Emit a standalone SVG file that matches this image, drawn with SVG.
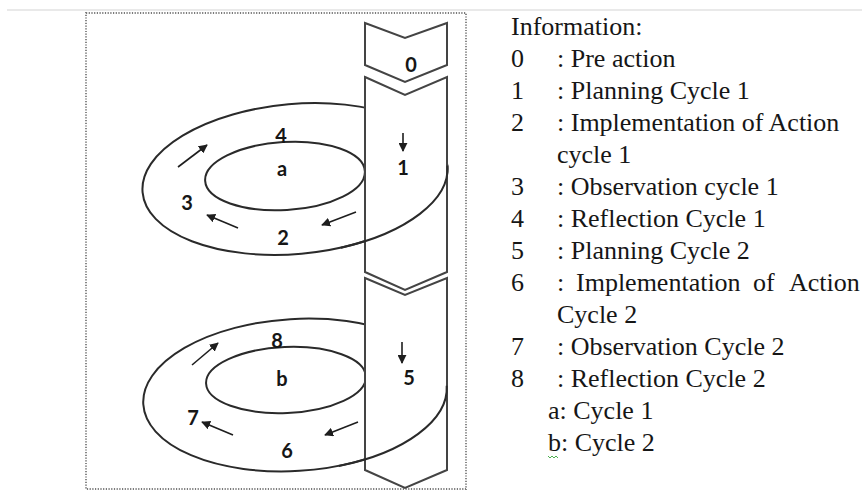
<svg xmlns="http://www.w3.org/2000/svg" width="862" height="495" viewBox="0 0 862 495">
<style>
.lbl{font-family:"Lato","Open Sans",sans-serif;font-weight:bold;font-size:20px;fill:#161616;text-anchor:middle}
.leg{font-family:"Liberation Serif","Times New Roman",serif;font-size:26px;fill:#161616}
.chev{fill:#fff;stroke:#444;stroke-width:2;stroke-linejoin:miter}
.ell{fill:none;stroke:#2a2a2a;stroke-width:2}
.arr{fill:none;stroke:#1e1e1e;stroke-width:1.6;marker-end:url(#ah)}
</style>
<defs>
<marker id="ah" viewBox="0 0 10 10" refX="9" refY="5" markerWidth="9" markerHeight="9" markerUnits="userSpaceOnUse" orient="auto">
<path d="M0,0 L10,5 L0,10 z" fill="#1e1e1e"/>
</marker>
</defs>
<rect width="862" height="495" fill="#fff"/>
<line x1="7" y1="10" x2="862" y2="10" stroke="#e2e2e2" stroke-width="1.5"/>
<rect id="frame" x="86" y="13" width="380" height="476" fill="none" stroke="#7a7a7a" stroke-width="1.8" stroke-dasharray="1.2 1.5"/>

<g id="cycle-a">
<ellipse class="ell" cx="295" cy="179" rx="153" ry="75" transform="rotate(-5 295 179)"/>
<ellipse class="ell" cx="285" cy="176" rx="80" ry="34" transform="rotate(-3.5 285 176)"/>
</g>
<g id="cycle-b">
<ellipse class="ell" cx="295" cy="395" rx="152" ry="76" transform="rotate(-3.5 295 395)"/>
<ellipse class="ell" cx="286" cy="380" rx="80" ry="33" transform="rotate(-2.5 286 380)"/>
</g>

<g id="step0">
<polygon class="chev" points="365,23 405,38 447,23 447,65 405,82 365,65"/>
<text class="lbl" x="411" y="72">0</text>
</g>
<g id="step1">
<polygon class="chev" points="365,77 405,95 447,77 447,272 405,290 365,272"/>
<text class="lbl" x="403" y="175">1</text>
</g>
<g id="step5">
<polygon class="chev" points="365,278 405,295 447,278 447,470 405,488 365,470"/>
<text class="lbl" x="409" y="385">5</text>
</g>

<g id="front-arcs">
<path class="ell" d="M447.4,165.7 A153,75 -5 0 1 340.8,247.7"/>
<path class="ell" d="M446.7,385.7 A152,76 -3.5 0 1 338.7,465.9"/>
</g>

<g id="labels-a">
<text class="lbl" x="281" y="143">4</text>
<text class="lbl" x="282" y="176">a</text>
<text class="lbl" x="187" y="210">3</text>
<text class="lbl" x="283" y="245">2</text>
</g>
<g id="labels-b">
<text class="lbl" x="277" y="348">8</text>
<text class="lbl" x="282" y="386">b</text>
<text class="lbl" x="193" y="425">7</text>
<text class="lbl" x="287" y="458">6</text>
</g>

<g id="connectors">
<line class="arr" x1="178" y1="167" x2="207" y2="145"/>
<line class="arr" x1="238" y1="228" x2="207" y2="215"/>
<line class="arr" x1="356" y1="212" x2="322" y2="225"/>
<line class="arr" x1="403" y1="133" x2="403" y2="151"/>
<line class="arr" x1="192" y1="365" x2="218" y2="343"/>
<line class="arr" x1="233" y1="435" x2="202" y2="422"/>
<line class="arr" x1="358" y1="422" x2="325" y2="435"/>
<line class="arr" x1="402" y1="342" x2="402" y2="363"/>
</g>

<g id="legend" class="leg">
<text x="511" y="35">Information:</text>
<text x="511" y="67">0</text><text x="557" y="67">: Pre action</text>
<text x="511" y="99">1</text><text x="557" y="99">: Planning Cycle 1</text>
<text x="511" y="131">2</text><text x="557" y="131">: Implementation of Action</text>
<text x="557" y="163">cycle 1</text>
<text x="511" y="195">3</text><text x="557" y="195">: Observation cycle 1</text>
<text x="511" y="227">4</text><text x="557" y="227">: Reflection Cycle 1</text>
<text x="511" y="259">5</text><text x="557" y="259">: Planning Cycle 2</text>
<text x="511" y="291">6</text><text y="291"><tspan x="557">:</tspan><tspan x="576">Implementation</tspan><tspan x="753">of</tspan><tspan x="789">Action</tspan></text>
<text x="557" y="323">Cycle 2</text>
<text x="511" y="355">7</text><text x="557" y="355">: Observation Cycle 2</text>
<text x="511" y="387">8</text><text x="557" y="387">: Reflection Cycle 2</text>
<text x="548" y="419">a: Cycle 1</text>
<text x="548" y="451">b: Cycle 2</text>
<path d="M548,456 l2,2 l2,-2 l2,2 l2,-2 l2,2" fill="none" stroke="#4caf50" stroke-width="1"/>
</g>
</svg>
